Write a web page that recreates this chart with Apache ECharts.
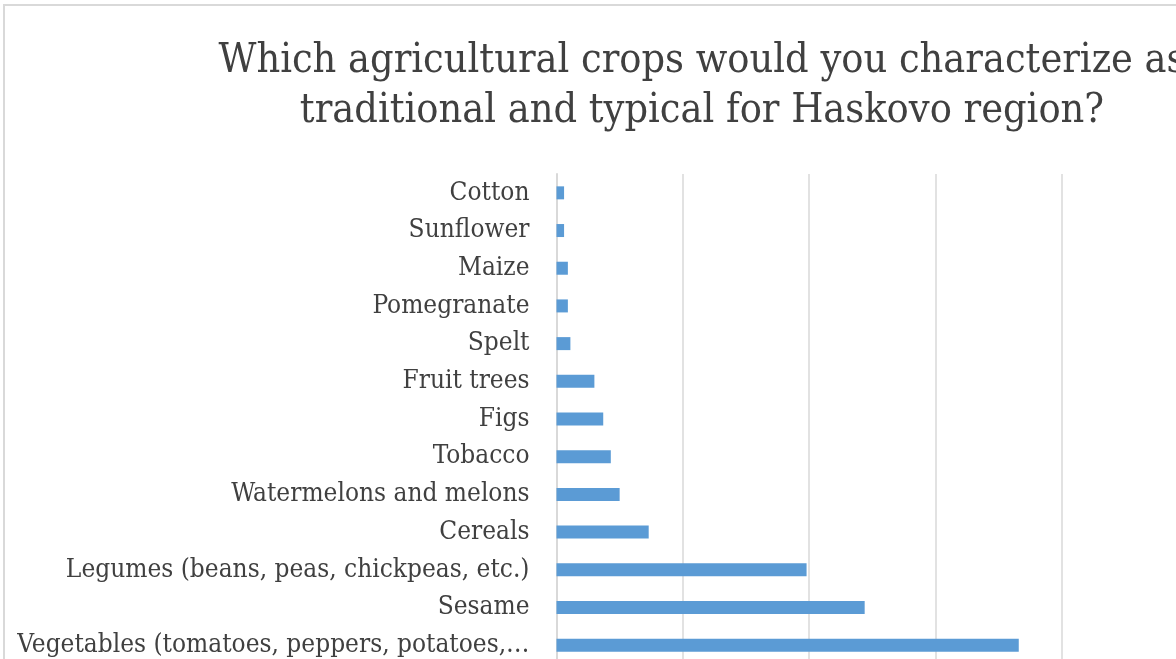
<!DOCTYPE html>
<html><head><meta charset="utf-8">
<script src="https://cdn.jsdelivr.net/npm/echarts@6/dist/echarts.min.js"></script>
<style>html,body{margin:0;padding:0;overflow:hidden;background:#fff;width:1176px;height:659px;}#c{position:absolute;left:0;top:0;width:1400px;height:720px;}</style>
</head><body><div id="c"></div>
<script>
const categories = ["Cotton","Sunflower","Maize","Pomegranate","Spelt","Fruit trees","Figs","Tobacco","Watermelons and melons","Cereals","Legumes (beans, peas, chickpeas, etc.)","Sesame","Vegetables (tomatoes, peppers, potatoes,…"];
const values = [0.6,0.6,0.9,0.9,1.1,3.0,3.7,4.3,5.0,7.3,19.8,24.4,36.6];
const titleLines = ["Which agricultural crops would you characterize as","traditional and typical for Haskovo region?"];
const serif = '"DejaVu Serif Condensed", "DejaVu Serif", serif';
const chart = echarts.init(document.getElementById('c'));
chart.setOption({
  animation:false,
  title:{text:titleLines.join('\n'),left:697,top:31,textAlign:'center',
    textStyle:{fontFamily:serif,fontSize:41,fontWeight:'normal',color:'#404040',lineHeight:50}},
  graphic:[{type:'rect',shape:{x:4,y:5,width:1500,height:900},style:{fill:'none',stroke:'#d9d9d9',lineWidth:2},z:-1}],
  grid:{left:556.5,top:174,width:631.5,height:490},
  xAxis:{type:'value',min:0,max:50,interval:10,
    axisLabel:{show:false},axisLine:{show:false},axisTick:{show:false},
    splitLine:{lineStyle:{color:'#d9d9d9',width:1.5}}},
  yAxis:{type:'category',data:categories,inverse:true,
    axisLine:{lineStyle:{color:'#d9d9d9',width:2}},axisTick:{show:false},
    axisLabel:{margin:27,fontFamily:serif,fontSize:26,color:'#404040'}},
  series:[{type:'bar',data:values,barWidth:13,itemStyle:{color:'#5b9bd5'}}]
});
</script></body></html>
